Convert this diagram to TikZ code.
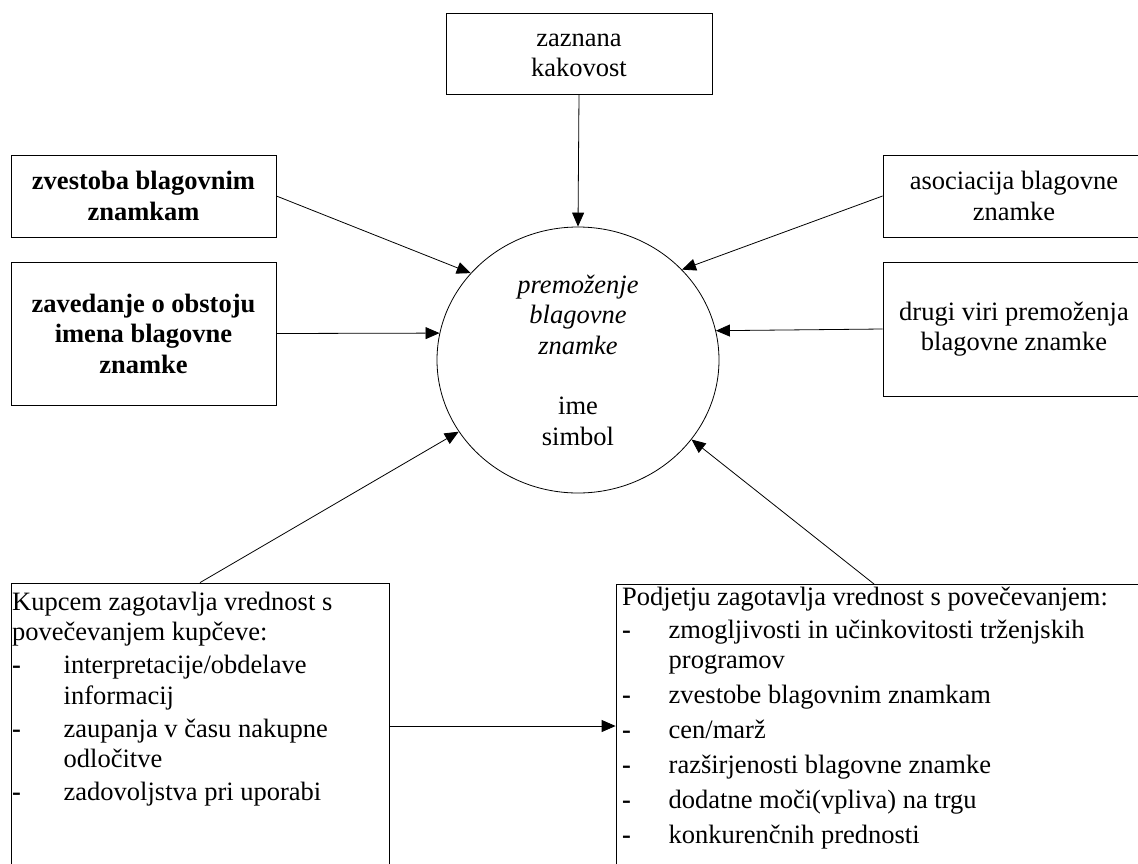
\documentclass[tikz,border=0pt]{standalone}
\usepackage{fontspec}
\setmainfont{Liberation Serif}
\usetikzlibrary{arrows.meta,shapes.geometric}
\newcommand\fs{\fontsize{26.5}{30.5}\selectfont}
\newcommand\dashA{\makebox[51.5pt][l]{\textbf{-}}}
\newcommand\dashB{\makebox[46.5pt][l]{\textbf{-}}}
\begin{document}
\begin{tikzpicture}[x=1pt,y=-1pt,
  box/.style={draw, line width=0.8pt, inner sep=0pt, align=center, font=\fs},
  boldbox/.style={box, font=\fs\bfseries},
  plainbox/.style={draw, line width=0.8pt, inner sep=0pt},
  txt/.style={inner sep=0pt, font=\fs},
  conn/.style={line width=0.8pt, -{Triangle[length=14pt,width=12pt]}}]
\useasboundingbox (0,0) rectangle (1138,863);
\clip (0,0) rectangle (1138,863);

\node[box, minimum width=266pt, minimum height=81pt] (kak) at (579,53.5) {\rule{0pt}{16pt}zaznana\\kakovost};
\node[boldbox, minimum width=265pt, minimum height=82pt] (zv) at (143.5,196) {zvestoba blagovnim\\znamkam};
\node[boldbox, minimum width=265pt, minimum height=143pt] (zav) at (143.5,333.5) {zavedanje o obstoju\\imena blagovne\\znamke};
\node[box, minimum width=262pt, minimum height=82pt] (as) at (1014,196) {asociacija blagovne\\znamke};
\node[box, minimum width=262pt, minimum height=134pt] (dv) at (1014,329) {drugi viri premoženja\\blagovne znamke};

\node[draw, ellipse, line width=0.8pt, minimum width=282pt, minimum height=266pt, inner sep=0pt] (e) at (578,360) {};
\node[txt, anchor=north, align=center] (et) at (578,272)
  {\rule{0pt}{21pt}\textit{premoženje}\\\textit{blagovne}\\\textit{znamke}\\[30pt]ime\\simbol};

\node[plainbox, minimum width=378pt, minimum height=286pt] (kb) at (200,726) {};
\node[plainbox, minimum width=529pt, minimum height=284pt] (pb) at (880.5,726) {};

\node[txt, anchor=north west, align=left] (kt) at (12,589)
  {\rule{0pt}{21pt}Kupcem zagotavlja vrednost s\\
   povečevanjem kupčeve:\\[2.5pt]
   \dashA interpretacije/obdelave\\
   \hspace*{51.5pt}informacij\\[2.5pt]
   \dashA zaupanja v času nakupne\\
   \hspace*{51.5pt}odločitve\\[2.5pt]
   \dashA zadovoljstva pri uporabi};

\node[txt, anchor=north west, align=left] (pt) at (622,584)
  {\rule{0pt}{21pt}Podjetju zagotavlja vrednost s povečevanjem:\\[2.5pt]
   \dashB zmogljivosti in učinkovitosti trženjskih\\
   \hspace*{46.5pt}programov\\[4.5pt]
   \dashB zvestobe blagovnim znamkam\\[4.5pt]
   \dashB cen/marž\\[4.5pt]
   \dashB razširjenosti blagovne znamke\\[4.5pt]
   \dashB dodatne moči(vpliva) na trgu\\[4.5pt]
   \dashB konkurenčnih prednosti};

\coordinate (pbtop) at (874,584);

\draw[conn] (kak.south) -- (e.north);
\draw[conn] (zv.east) -- (e.141.5);
\draw[conn] (zav.east) -- (e.169);
\draw[conn] (as.west) -- (e.41.8);
\draw[conn] (dv.west) -- (e.12.3);
\draw[conn] (kb.north) -- (e.211.3);
\draw[conn] (pbtop) -- (e.-35.5);
\draw[conn] (kb.east) -- (pb.west);
\end{tikzpicture}
\end{document}
